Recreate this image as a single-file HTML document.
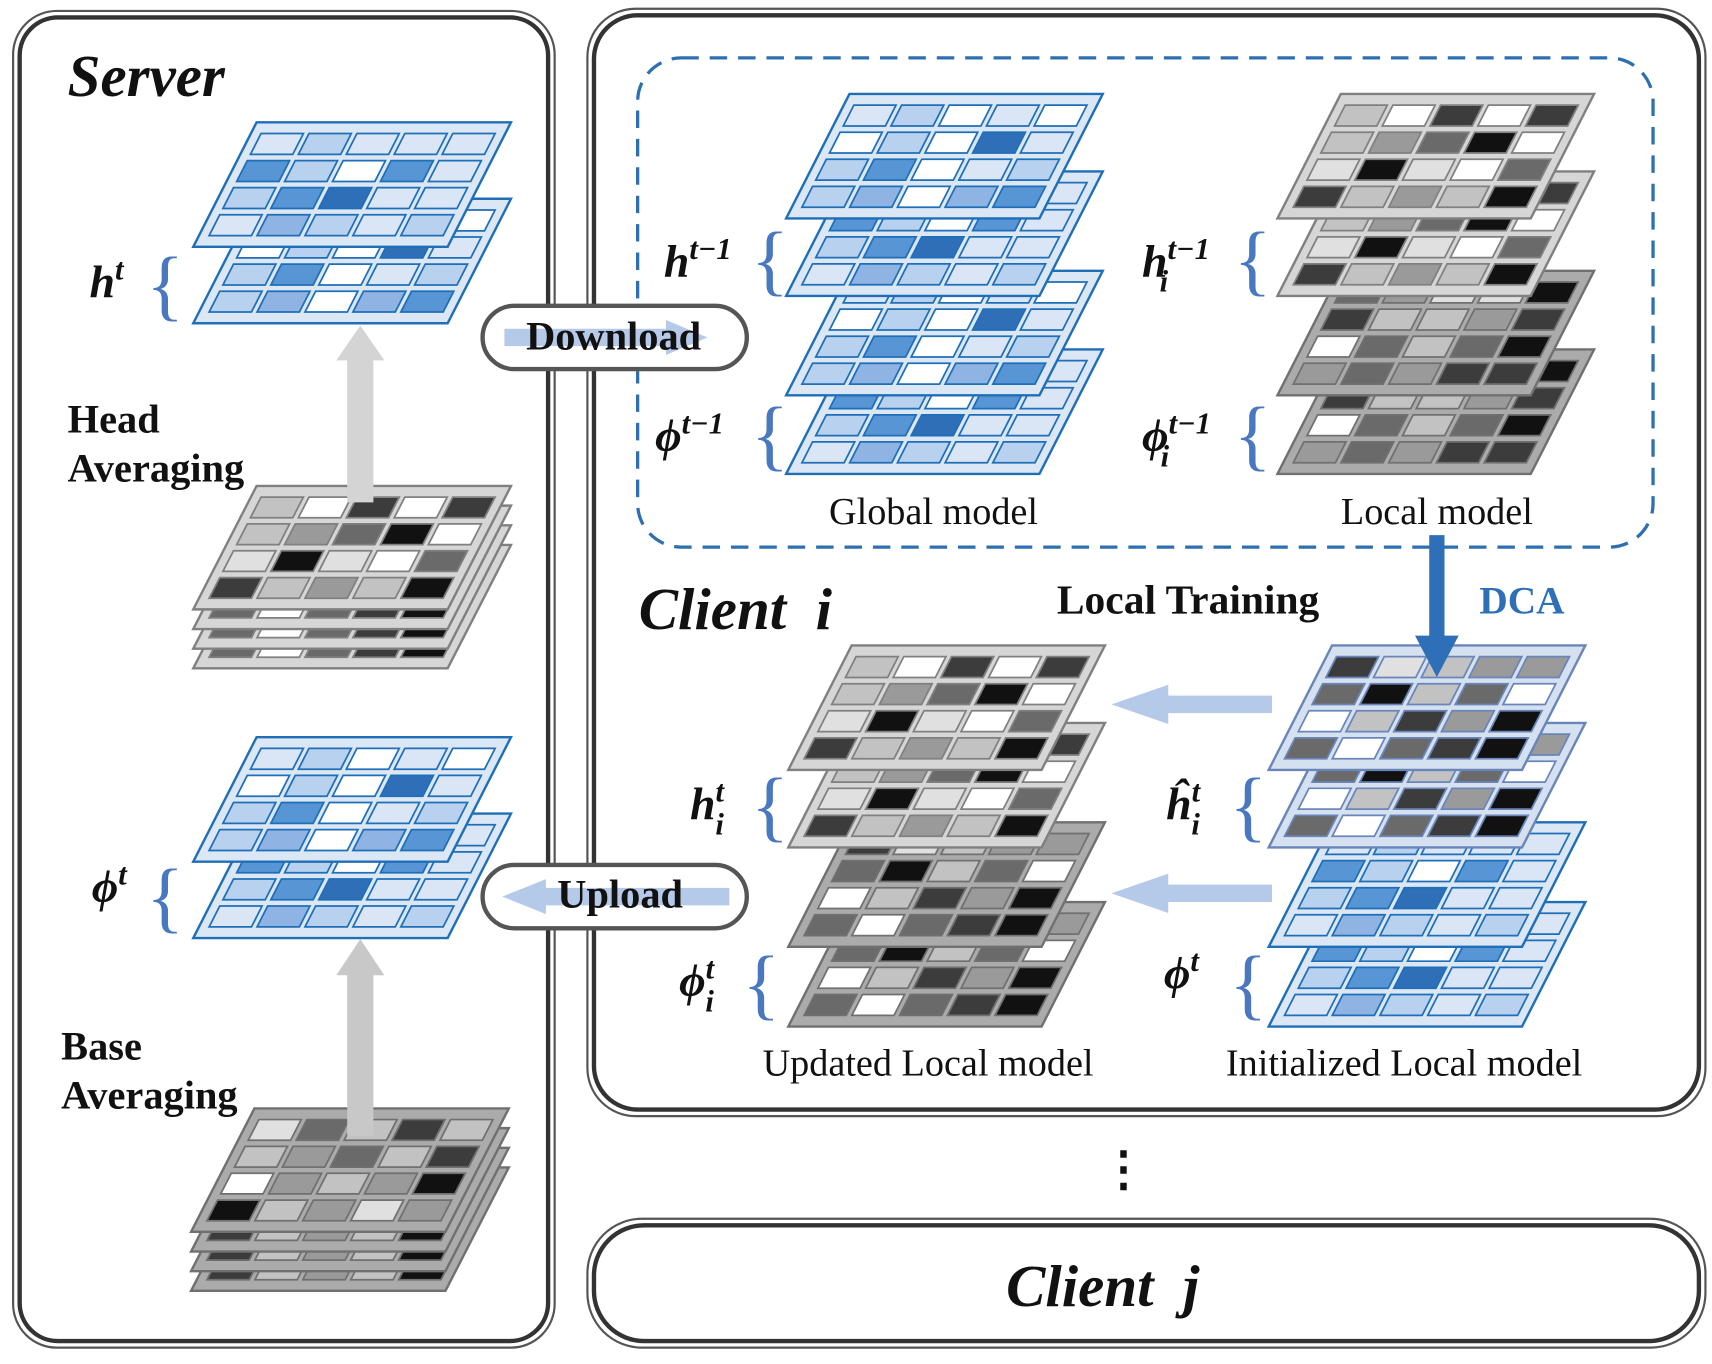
<!DOCTYPE html>
<html><head><meta charset="utf-8"><style>
html,body{margin:0;padding:0;background:#fff}
svg{display:block}
text{font-family:"Liberation Serif",serif}
</style></head><body>
<svg id="svg" width="1712" height="1364" viewBox="0 0 1568 1249" preserveAspectRatio="none" xmlns="http://www.w3.org/2000/svg">
<g>
<rect x="12" y="10" width="496" height="1224" rx="40" fill="none" stroke="#555" stroke-width="2"/>
<rect x="18" y="16" width="484" height="1212" rx="35" fill="none" stroke="#333" stroke-width="4"/>
</g>
<g>
<rect x="538" y="8" width="1024" height="1014" rx="44" fill="none" stroke="#555" stroke-width="2"/>
<rect x="544" y="14" width="1012" height="1002" rx="40" fill="none" stroke="#333" stroke-width="4"/>
</g>
<g>
<rect x="538" y="1116" width="1024" height="118" rx="50" fill="none" stroke="#555" stroke-width="2"/>
<rect x="544" y="1122" width="1012" height="106" rx="46" fill="none" stroke="#333" stroke-width="4"/>
</g>
<rect x="584" y="53" width="930" height="448" rx="40" fill="none" stroke="#2e6fb0" stroke-width="3" stroke-dasharray="16,10"/>
<g id="layers"></g>
<g>
<polygon points="318,460 342,460 342,330 352,330 330,298 308,330 318,330" fill="#d4d4d4"/>
<polygon points="318,1040 342,1040 342,893 352,893 330,860 308,893 318,893" fill="#c8c8c8"/>
<polygon points="1309,490 1323,490 1323,582 1336,582 1316,620 1296,582 1309,582" fill="#2e6fb8"/>
<polygon points="1165,637 1070,637 1070,627 1018,645 1070,663 1070,653 1165,653" fill="#b5c9e8"/>
<polygon points="1165,810 1070,810 1070,800 1018,818 1070,836 1070,826 1165,826" fill="#b5c9e8"/>
</g>
<g>
<rect x="442" y="280" width="242" height="58" rx="29" fill="#fff" stroke="#555" stroke-width="4"/>
<polygon points="462,301 610,301 610,293 648,309 610,325 610,317 462,317" fill="#b5c9e8"/>
<text x="562" y="320" text-anchor="middle" font-size="37" font-weight="bold" fill="#111">Download</text>
</g>
<g>
<rect x="442" y="792" width="242" height="58" rx="29" fill="#fff" stroke="#555" stroke-width="4"/>
<polygon points="668,813 500,813 500,805 460,821 500,837 500,829 668,829" fill="#b5c9e8"/>
<text x="568" y="831" text-anchor="middle" font-size="37" font-weight="bold" fill="#111">Upload</text>
</g>
<g fill="#111">
<text x="62" y="88" font-size="54" font-weight="bold" font-style="italic">Server</text>
<text x="62" y="396" font-size="37" font-weight="bold">Head</text>
<text x="62" y="441" font-size="37" font-weight="bold">Averaging</text>
<text x="56" y="970" font-size="37" font-weight="bold">Base</text>
<text x="56" y="1015" font-size="37" font-weight="bold">Averaging</text>
<text x="585" y="576" font-size="54" font-weight="bold" font-style="italic" xml:space="preserve">Client  i</text>
<text x="1010" y="1196" text-anchor="middle" font-size="54" font-weight="bold" font-style="italic" xml:space="preserve">Client  j</text>
<text x="968" y="562" font-size="38" font-weight="bold">Local Training</text>
<text x="1355" y="562" font-size="36" font-weight="bold" fill="#2e6fb8">DCA</text>
<text x="855" y="480" text-anchor="middle" font-size="35">Global model</text>
<text x="1316" y="480" text-anchor="middle" font-size="35">Local model</text>
<text x="850" y="985" text-anchor="middle" font-size="35">Updated Local model</text>
<text x="1286" y="985" text-anchor="middle" font-size="35">Initialized Local model</text>
<text x="1029" y="1085" text-anchor="middle" font-size="44" font-weight="bold">⋮</text>
<g font-weight="bold" font-style="italic" font-size="42">
<text x="82" y="272">h<tspan font-size="28" dy="-16">t</tspan></text>
<text x="84" y="826">ϕ<tspan font-size="28" dy="-16">t</tspan></text>
<text x="608" y="253">h<tspan font-size="28" dy="-16">t−1</tspan></text>
<text x="600" y="413">ϕ<tspan font-size="28" dy="-16">t−1</tspan></text>
<text x="1046" y="253">h<tspan font-size="28" dy="-16">t−1</tspan><tspan font-size="28" dx="-46" dy="30">i</tspan></text>
<text x="1046" y="413">ϕ<tspan font-size="28" dy="-16">t−1</tspan><tspan font-size="28" dx="-46" dy="30">i</tspan></text>
<text x="632" y="750">h<tspan font-size="28" dy="-16">t</tspan><tspan font-size="28" dx="-8" dy="30">i</tspan></text>
<text x="622" y="912">ϕ<tspan font-size="28" dy="-16">t</tspan><tspan font-size="28" dx="-8" dy="30">i</tspan></text>
<text x="1068" y="750">ĥ<tspan font-size="28" dy="-16">t</tspan><tspan font-size="28" dx="-8" dy="30">i</tspan></text>
<text x="1066" y="905">ϕ<tspan font-size="28" dy="-16">t</tspan></text>
</g>
<g fill="#4a78c0" font-size="72" font-weight="normal">
<text x="134" y="285">{</text><text x="134" y="845">{</text>
<text x="688" y="262">{</text><text x="688" y="422">{</text>
<text x="1130" y="262">{</text><text x="1130" y="422">{</text>
<text x="688" y="762">{</text><text x="680" y="925">{</text>
<text x="1126" y="762">{</text><text x="1126" y="925">{</text>
</g>
</g>
</svg>
<script>
const bluePal=["#ffffff","#dae6f5","#b8d1ee","#8fb3e3","#5895d4","#2f6fb8","#3c62b8"];
const grayPal=["#ffffff","#e0e0e0","#c2c2c2","#9a9a9a","#6a6a6a","#3c3c3c","#111111"];
const globalCells=["12010","02051","24012","23034"];
const serverHead=["12111","42041","24511","13212"];
const serverBase=["14252","23425","03236","62313"];
const grayA=["20505","23460","16104","52326"];
const grayB=["51233","46240","02536","40456"];
const gDark=["43116","52235","04246","34355"];
const NS='http://www.w3.org/2000/svg';
const root=document.getElementById('layers');
function layer(name,x,y,w,h,sk,pal,cells,fill,stroke){
  const g=document.createElementNS(NS,'g');
  
  
  const P=(u,v)=>[x+sk*(1-v)+w*u,y+h*v];
  const poly=(pts,f,s,sw)=>{const p=document.createElementNS(NS,'polygon');p.setAttribute('points',pts.map(q=>q.join(',')).join(' '));p.setAttribute('fill',f);p.setAttribute('stroke',s);p.setAttribute('stroke-width',sw);g.appendChild(p);return p;};
  poly([P(0,0),P(1,0),P(1,1),P(0,1)],fill,stroke,2.2);
  const mu=0.04,mv=0.09,gu=0.022,gv=0.05;
  const cw=(1-2*mu-4*gu)/5,ch=(1-2*mv-3*gv)/4;
  for(let r=0;r<4;r++)for(let c=0;c<5;c++){
    const u0=mu+c*(cw+gu),v0=mv+r*(ch+gv);
    const cell=poly([P(u0,v0),P(u0+cw,v0),P(u0+cw,v0+ch),P(u0,v0+ch)],pal[+cells[r][c]],stroke,1.6);
    
    
  }
  root.appendChild(g);
}
const B=["#dbe7f5","#1f6fb8"],G=["#d6d6d6","#808080"],D=["#ababab","#707070"],L=["#d5e0f1","#6a86b8"];
layer('server-head-layer-2',177,182,233,114,58,bluePal,globalCells,...B);
layer('server-head-layer-1',177,112,233,114,58,bluePal,serverHead,...B);
for(let i=3;i>=0;i--)layer('server-head-client-layer',177,445+i*18,233,113,58,grayPal,i?grayB:grayA,...G);
layer('server-base-layer-2',177,745,233,114,58,bluePal,serverHead,...B);
layer('server-base-layer-1',177,675,233,114,58,bluePal,globalCells,...B);
for(let i=3;i>=0;i--)layer('server-base-client-layer',175,1015+i*18,233,113,58,grayPal,i?grayA:serverBase,...D);
[320,248,157,86].forEach((yy,i)=>layer('global-model-layer',720,yy,232,114,58,bluePal,[serverHead,globalCells,serverHead,globalCells][i],...B));
[320,248].forEach(yy=>layer('local-model-base-layer',1170,yy,232,114,58,grayPal,gDark,...D));
[157,86].forEach(yy=>layer('local-model-head-layer',1170,yy,232,114,58,grayPal,grayA,...G));
[826,753].forEach(yy=>layer('updated-base-layer',722,yy,232,114,58,grayPal,grayB,...D));
[662,591].forEach(yy=>layer('updated-head-layer',722,yy,232,114,58,grayPal,grayA,...G));
[826,753].forEach(yy=>layer('initialized-base-layer',1162,yy,232,114,58,bluePal,serverHead,...B));
[662,591].forEach(yy=>layer('initialized-head-layer',1162,yy,232,114,58,grayPal,grayB,...L));
</script>
</body></html>
